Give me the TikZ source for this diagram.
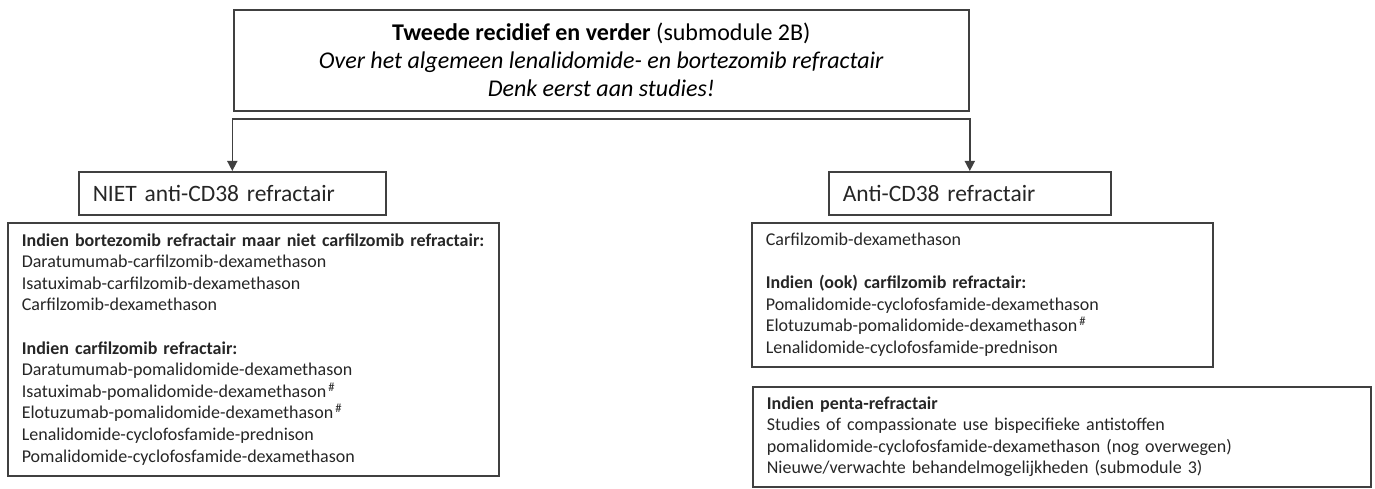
\documentclass[tikz,border=0pt]{standalone}
\usepackage{fontspec}
\setmainfont{Carlito}
\usetikzlibrary{arrows.meta}

\tikzset{
	frame/.style = {draw = black!75, line width = 1.6pt, anchor = north west, inner ysep = 0pt},
	headbox/.style = {frame, align = center, text = black, font = \fontsize{24}{28}\selectfont},
	catbox/.style = {frame, align = left, inner xsep = 14pt, text = black!85, font = \fontsize{23.5}{28}\selectfont},
	listbox/.style = {frame, align = left, inner xsep = 14pt, text = black!85, font = \fontsize{18}{21.6}\selectfont},
	link/.style = {draw = black!75, line width = 1.6pt, -{Triangle[width = 10pt, length = 10pt]}}
}

\newcommand{\fn}{\textsuperscript{\,\#}}

\begin{document}
\begin{tikzpicture}[x = 1pt, y = -1pt]
			\useasboundingbox (0,0) rectangle (1375,489);

			% kopblok
			\node [headbox, minimum width = 735pt, minimum height = 101pt] (head) at (233,9)
				{\textbf{Tweede recidief en verder} (submodule 2B)\\
				 \textit{Over het algemeen lenalidomide- en bortezomib refractair}\\
				 \textit{Denk eerst aan studies!}};

			% twee takken
			\node [catbox, text width = 279pt, minimum height = 43pt] (niet) at (78,171) {NIET anti-CD38 refractair};
			\node [catbox, text width = 254pt, minimum height = 43pt] (anti) at (828,171) {Anti-CD38 refractair};

			\coordinate (split) at (600,119);
			\draw [link] (split) -| (niet.north);
			\draw [link] (split) -| (anti.north);

			% behandelingen
			\node [listbox, text width = 463pt, minimum height = 253pt] (nietlist) at (7,222)
				{\textbf{Indien bortezomib refractair maar niet carfilzomib refractair:}\\
				 Daratumumab-carfilzomib-dexamethason\\
				 Isatuximab-carfilzomib-dexamethason\\
				 Carfilzomib-dexamethason\\[21.6pt]
				 \textbf{Indien carfilzomib refractair:}\\
				 Daratumumab-pomalidomide-dexamethason\\
				 Isatuximab-pomalidomide-dexamethason\fn\\
				 Elotuzumab-pomalidomide-dexamethason\fn\\
				 Lenalidomide-cyclofosfamide-prednison\\
				 Pomalidomide-cyclofosfamide-dexamethason};

			\node [listbox, text width = 433pt, minimum height = 144pt] (antilist) at (751,222)
				{Carfilzomib-dexamethason\\[21.6pt]
				 \textbf{Indien (ook) carfilzomib refractair:}\\
				 Pomalidomide-cyclofosfamide-dexamethason\\
				 Elotuzumab-pomalidomide-dexamethason\fn\\
				 Lenalidomide-cyclofosfamide-prednison};

			\node [listbox, text width = 590pt, minimum height = 100pt] (penta) at (752,386)
				{\textbf{Indien penta-refractair}\\
				 Studies of compassionate use bispecifieke antistoffen\\
				 pomalidomide-cyclofosfamide-dexamethason (nog overwegen)\\
				 Nieuwe/verwachte behandelmogelijkheden (submodule 3)};
		\end{tikzpicture}
\end{document}
